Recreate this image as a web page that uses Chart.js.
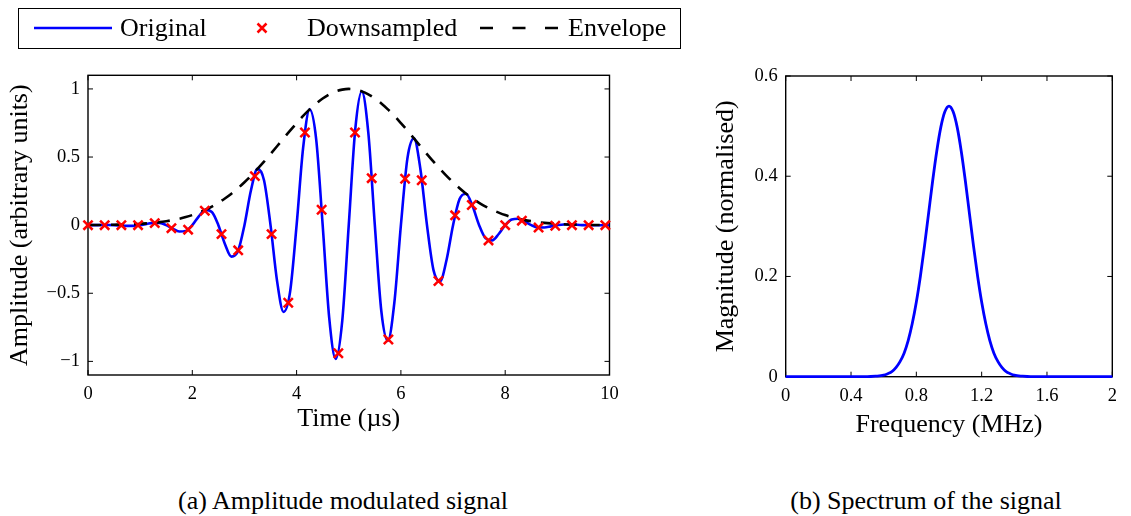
<!DOCTYPE html>
<html>
<head>
<meta charset="utf-8">
<script src="https://cdn.jsdelivr.net/npm/chart.js@4.4.1/dist/chart.umd.min.js"></script>
<style>
  body { margin: 0; background: #fff; width: 1131px; height: 516px; position: relative; overflow: hidden;
         font-family: "Liberation Serif", serif; color: #000; }
  canvas { position: absolute; top: 0; }
  .legend { position: absolute; left: 18px; top: 8px; width: 661px; height: 39px; border: 1.4px solid #000; }
  .leg-text { position: absolute; top: 8px; height: 40px; line-height: 40px; font-size: 26px; white-space: nowrap; }
  .leg-keys { position: absolute; left: 0; top: 0; }
  .caption { position: absolute; top: 486px; width: 400px; text-align: center; font-size: 26px; line-height: 30px; }
</style>
</head>
<body>
<canvas id="signal" width="640" height="460" style="left:0"></canvas>
<canvas id="spectrum" width="441" height="460" style="left:690px"></canvas>

<div class="legend"></div>
<svg class="leg-keys" width="700" height="60">
  <line x1="34" y1="28" x2="112" y2="28" stroke="#0000ff" stroke-width="2.6"/>
  <path d="M257.5 23.5 L266.5 32.5 M266.5 23.5 L257.5 32.5" stroke="#ff0000" stroke-width="2.5"/>
  <line x1="480" y1="28" x2="558" y2="28" stroke="#000" stroke-width="2.6" stroke-dasharray="13 19.5"/>
</svg>
<div class="leg-text" style="left:120px">Original</div>
<div class="leg-text" style="left:307px">Downsampled</div>
<div class="leg-text" style="left:568px">Envelope</div>

<div class="caption" style="left:143px">(a) Amplitude modulated signal</div>
<div class="caption" style="left:726px">(b) Spectrum of the signal</div>

<script>
// time axis of the pulse, microseconds
const timeUs = [
  0, 0.125, 0.25, 0.375, 0.5, 0.625, 0.75, 0.875,
  1, 1.125, 1.25, 1.375, 1.5, 1.625, 1.75, 1.875,
  2, 2.125, 2.25, 2.375, 2.5, 2.625, 2.75, 2.875,
  3, 3.125, 3.25, 3.375, 3.5, 3.625, 3.75, 3.875,
  4, 4.125, 4.25, 4.375, 4.5, 4.625, 4.75, 4.875,
  5, 5.125, 5.25, 5.375, 5.5, 5.625, 5.75, 5.875,
  6, 6.125, 6.25, 6.375, 6.5, 6.625, 6.75, 6.875,
  7, 7.125, 7.25, 7.375, 7.5, 7.625, 7.75, 7.875,
  8, 8.125, 8.25, 8.375, 8.5, 8.625, 8.75, 8.875,
  9, 9.125, 9.25, 9.375, 9.5, 9.625, 9.75, 9.875,
  10
];
const originalAmp = [
  0, 0, 0.001, 0.001, 0, -0.003, -0.005, -0.005,
  0, 0.009, 0.017, 0.016, 0, -0.026, -0.047, -0.042,
  0, 0.065, 0.112, 0.097, 0, -0.138, -0.231, -0.192,
  0, 0.256, 0.413, 0.330, 0, -0.409, -0.637, -0.490,
  0, 0.567, 0.850, 0.632, 0, -0.679, -0.982, -0.704,
  0, 0.704, 0.982, 0.679, 0, -0.632, -0.850, -0.567,
  0, 0.490, 0.637, 0.409, 0, -0.330, -0.413, -0.256,
  0, 0.192, 0.231, 0.138, 0, -0.097, -0.112, -0.065,
  0, 0.042, 0.047, 0.026, 0, -0.016, -0.017, -0.009,
  0, 0.005, 0.005, 0.003, 0, -0.001, -0.001, -0.001,
  0
];
const envelopeAmp = [
  0.001, 0.001, 0.001, 0.002, 0.003, 0.004, 0.005, 0.007,
  0.010, 0.013, 0.017, 0.022, 0.029, 0.037, 0.047, 0.059,
  0.074, 0.092, 0.112, 0.136, 0.164, 0.196, 0.231, 0.271,
  0.315, 0.362, 0.413, 0.466, 0.522, 0.579, 0.637, 0.694,
  0.749, 0.802, 0.850, 0.893, 0.930, 0.960, 0.982, 0.995,
  1.000, 0.995, 0.982, 0.960, 0.930, 0.893, 0.850, 0.802,
  0.749, 0.694, 0.637, 0.579, 0.522, 0.466, 0.413, 0.362,
  0.315, 0.271, 0.231, 0.196, 0.164, 0.136, 0.112, 0.092,
  0.074, 0.059, 0.047, 0.037, 0.029, 0.022, 0.017, 0.013,
  0.010, 0.007, 0.005, 0.004, 0.003, 0.002, 0.001, 0.001,
  0.001
];

// samples taken every 0.32 us
const sampleTimeUs = [
  0, 0.32, 0.64, 0.96, 1.28, 1.6, 1.92, 2.24, 2.56, 2.88, 3.2, 3.52, 3.84, 4.16, 4.48, 4.8,
  5.12, 5.44, 5.76, 6.08, 6.4, 6.72, 7.04, 7.36, 7.68, 8.0, 8.32, 8.64, 8.96, 9.28, 9.6, 9.92
];
const sampleAmp = [
  0, 0, 0, 0, 0.015, -0.022, -0.033, 0.106, -0.066, -0.185, 0.36, -0.066, -0.57, 0.68, 0.113, -0.94,
  0.68, 0.345, -0.84, 0.34, 0.33, -0.41, 0.072, 0.148, -0.112, 0, 0.033, -0.018, -0.004, 0, 0, 0
];

// spectrum
const freqMHz = [
  0, 0.2, 0.4, 0.5, 0.55,
  0.6, 0.625, 0.65, 0.675, 0.7, 0.725, 0.75, 0.775, 0.8, 0.825, 0.85, 0.875, 0.9, 0.925, 0.95, 0.975,
  1.0, 1.025, 1.05, 1.075, 1.1, 1.125, 1.15, 1.175, 1.2, 1.225, 1.25, 1.275, 1.3, 1.325, 1.35, 1.375, 1.4,
  1.45, 1.5, 1.6, 1.8, 2.0
];
const magnitude = [
  0, 0, 0, 0, 0.001,
  0.003, 0.006, 0.010, 0.018, 0.030, 0.047, 0.072, 0.106, 0.149, 0.201, 0.261, 0.326, 0.391, 0.450, 0.498, 0.529,
  0.540, 0.529, 0.498, 0.450, 0.391, 0.326, 0.261, 0.201, 0.149, 0.106, 0.072, 0.047, 0.030, 0.018, 0.010, 0.006, 0.003,
  0.001, 0, 0, 0, 0
];

const timeTicks = [0, 2, 4, 6, 8, 10];
const ampTicks = [-1, -0.5, 0, 0.5, 1];
const freqTicks = [0, 0.4, 0.8, 1.2, 1.6, 2];
const magTicks = [0, 0.2, 0.4, 0.6];

Chart.defaults.font.family = '"Liberation Serif", serif';
Chart.defaults.color = '#000';

const tickFont = { size: 18.5 };
const titleFont = { size: 26 };
const fmt = v => String(v).replace('-', '\u2212');
const xy = (xs, ys) => xs.map((x, i) => ({ x: x, y: ys[i] }));

// box around the plot with inward ticks on all four sides
const frameTicks = {
  id: 'frameTicks',
  beforeDatasetsDraw(chart) {
    const { ctx, chartArea: a, scales: { x, y } } = chart;
    const len = 5;
    ctx.save();
    ctx.strokeStyle = '#000';
    ctx.lineWidth = 1.4;
    ctx.strokeRect(a.left, a.top, a.right - a.left, a.bottom - a.top);
    ctx.lineWidth = 1;
    ctx.beginPath();
    x.ticks.forEach(t => {
      const px = x.getPixelForValue(t.value);
      ctx.moveTo(px, a.bottom); ctx.lineTo(px, a.bottom - len);
      ctx.moveTo(px, a.top); ctx.lineTo(px, a.top + len);
    });
    y.ticks.forEach(t => {
      const py = y.getPixelForValue(t.value);
      ctx.moveTo(a.left, py); ctx.lineTo(a.left + len, py);
      ctx.moveTo(a.right, py); ctx.lineTo(a.right - len, py);
    });
    ctx.stroke();
    ctx.restore();
  }
};

function axis(opts) {
  return {
    type: 'linear',
    min: opts.min,
    max: opts.max,
    afterBuildTicks: s => { s.ticks = opts.ticks.map(v => ({ value: v })); },
    afterFit: s => { if (opts.width) s.width = opts.width; if (opts.height) s.height = opts.height; },
    grid: { display: false, drawTicks: false },
    border: { display: false },
    ticks: { padding: 8, font: tickFont, maxRotation: 0, autoSkip: false, callback: fmt },
    title: { display: true, text: opts.title, font: titleFont, padding: opts.titlePad }
  };
}

new Chart(document.getElementById('signal'), {
  type: 'line',
  data: {
    datasets: [
      {
        label: 'Downsampled',
        data: xy(sampleTimeUs, sampleAmp),
        showLine: false,
        pointStyle: 'crossRot',
        pointRadius: 6.5,
        pointBorderWidth: 2.5,
        borderColor: '#ff0000',
        backgroundColor: '#ff0000',
        clip: false,
        order: 1
      },
      {
        label: 'Envelope',
        data: xy(timeUs, envelopeAmp),
        borderColor: '#000',
        borderWidth: 2.6,
        borderDash: [13, 10],
        pointRadius: 0,
        cubicInterpolationMode: 'monotone',
        order: 2
      },
      {
        label: 'Original',
        data: xy(timeUs, originalAmp),
        borderColor: '#0000ff',
        borderWidth: 2.6,
        borderJoinStyle: 'round',
        pointRadius: 0,
        cubicInterpolationMode: 'monotone',
        order: 3
      }
    ]
  },
  options: {
    responsive: false,
    animation: false,
    layout: { padding: { top: 75.3, right: 30.5, bottom: 0, left: 0 } },
    plugins: { legend: { display: false }, tooltip: { enabled: false } },
    scales: {
      x: axis({ min: 0, max: 10, ticks: timeTicks, height: 85, title: 'Time (\u00b5s)', titlePad: { top: 0, bottom: 25 } }),
      y: axis({ min: -1.1, max: 1.1, ticks: ampTicks, width: 88, title: 'Amplitude (arbitrary units)', titlePad: { top: 4.5, bottom: 0 } })
    }
  },
  plugins: [frameTicks]
});

new Chart(document.getElementById('spectrum'), {
  type: 'line',
  data: {
    datasets: [{
      label: 'Spectrum',
      data: xy(freqMHz, magnitude),
      borderColor: '#0000ff',
      borderWidth: 2.8,
      pointRadius: 0,
      cubicInterpolationMode: 'monotone',
      clip: false
    }]
  },
  options: {
    responsive: false,
    animation: false,
    layout: { padding: { top: 76, right: 18.7, bottom: 0, left: 0 } },
    plugins: { legend: { display: false }, tooltip: { enabled: false } },
    scales: {
      x: axis({ min: 0, max: 2, ticks: freqTicks, height: 83.3, title: 'Frequency (MHz)', titlePad: { top: 0, bottom: 19.5 } }),
      y: axis({ min: 0, max: 0.6, ticks: magTicks, width: 95.7, title: 'Magnitude (normalised)', titlePad: { top: 20.5, bottom: 0 } })
    }
  },
  plugins: [frameTicks]
});
</script>
</body>
</html>
